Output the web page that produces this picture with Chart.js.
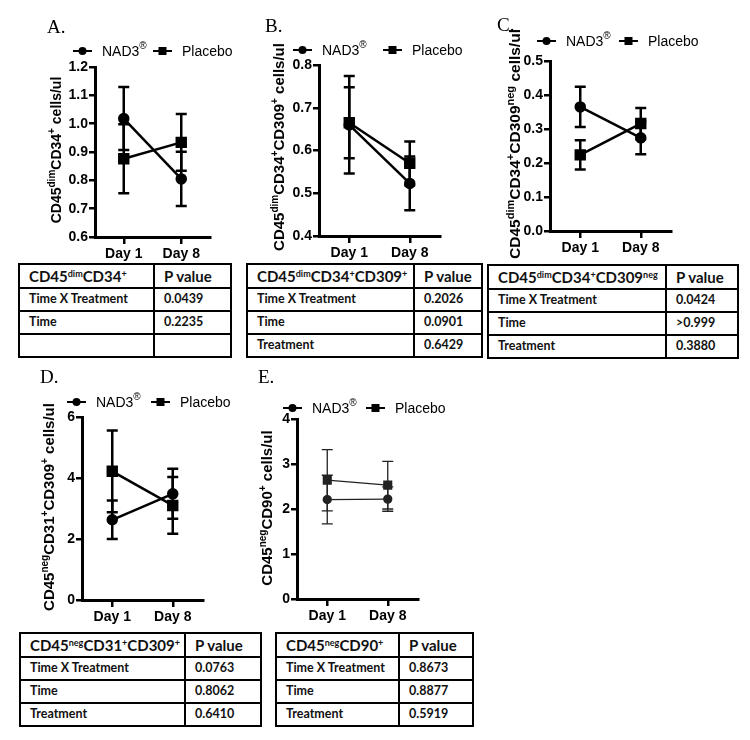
<!DOCTYPE html>
<html>
<head>
<meta charset="utf-8">
<script src="https://cdn.jsdelivr.net/npm/chart.js@4.4.0/dist/chart.umd.min.js"></script>
<style>
    body { margin: 0; background: #fff; width: 750px; height: 740px; position: relative; overflow: hidden; }
    canvas { position: absolute; }
    .tbl { position: absolute; border: 2px solid #000; box-sizing: border-box; font-family: Lato, "Open Sans", sans-serif; color: #111; }
    .tbl .row { display: flex; box-sizing: border-box; border-top: 2px solid #000; height: 23px; }
    .tbl .row:first-child { border-top: none; height: 22px; }
    .tbl .cell { box-sizing: border-box; padding: 0 0 2px 9px; display: flex; align-items: center; font-size: 12.5px; font-weight: 700; white-space: nowrap; }
    .tbl .c1 { border-right: 2px solid #000; }
    .tbl .c2 { flex: 1; }
    .tbl .head .cell { font-size: 15px; padding-bottom: 0; }
    .tbl sup { font-size: 9px; line-height: 0; position: relative; top: -2px; }
</style>
</head>
<body>
<canvas id="cA" width="240" height="262" style="left:0;top:0"></canvas>
<canvas id="cB" width="245" height="262" style="left:240px;top:0"></canvas>
<canvas id="cC" width="265" height="262" style="left:485px;top:0"></canvas>
<canvas id="cD" width="240" height="268" style="left:0;top:362px"></canvas>
<canvas id="cE" width="250" height="268" style="left:240px;top:362px"></canvas>
<div id="tables"></div>
<script>
    'use strict';

    var days = ['Day 1', 'Day 8'];

    // A. CD45dim CD34+
    var aNad = [1.018, 0.805];
    var aNadErr = [0.111, 0.096];
    var aPla = [0.876, 0.934];
    var aPlaErr = [0.122, 0.100];
    var aTicks = [0.6, 0.7, 0.8, 0.9, 1.0, 1.1, 1.2];

    // B. CD45dim CD34+ CD309+
    var bNad = [0.660, 0.523];
    var bNadErr = [0.114, 0.063];
    var bPla = [0.665, 0.570];
    var bPlaErr = [0.083, 0.051];
    var bTicks = [0.4, 0.5, 0.6, 0.7, 0.8];

    // C. CD45dim CD34+ CD309neg
    var cNad = [0.365, 0.274];
    var cNadErr = [0.059, 0.048];
    var cPla = [0.224, 0.316];
    var cPlaErr = [0.043, 0.046];
    var cTicks = [0.0, 0.1, 0.2, 0.3, 0.4, 0.5];

    // D. CD45neg CD31+ CD309+
    var dNad = [2.63, 3.48];
    var dNadErr = [0.63, 0.82];
    var dPla = [4.22, 3.10];
    var dPlaErr = [1.34, 0.93];
    var dTicks = [0, 2, 4, 6];

    // E. CD45neg CD90+
    var eNad = [2.21, 2.22];
    var eNadErr = [0.54, 0.27];
    var ePla = [2.64, 2.53];
    var ePlaErr = [0.68, 0.53];
    var eTicks = [0, 1, 2, 3, 4];

    // P value tables
    var rowNames = ['Time X Treatment', 'Time', 'Treatment'];
    var aPvals = ['0.0439', '0.2235', ''];
    var bPvals = ['0.2026', '0.0901', '0.6429'];
    var cPvals = ['0.0424', '>0.999', '0.3880'];
    var dPvals = ['0.0763', '0.8062', '0.6410'];
    var ePvals = ['0.8673', '0.8877', '0.5919'];

    var FONT = '"Liberation Sans", Arial, sans-serif';

    var panels = [
        { id: 'cA', letter: 'A.', nad: aNad, nadErr: aNadErr, pla: aPla, plaErr: aPlaErr, ticks: aTicks, dec: 1,
          title: [['CD45', 0], ['dim', 1], ['CD34', 0], ['+', 1], [' cells/ul', 0]], titleSize: 14,
          box: { l: 0, t: 0, w: 240, h: 262 }, area: { l: 95, t: 67, r: 210, b: 237 },
          letterPos: [47, 28], legendPos: [73, 51, 182], titlePos: [56, 150], lw: 2.5 },
        { id: 'cB', letter: 'B.', nad: bNad, nadErr: bNadErr, pla: bPla, plaErr: bPlaErr, ticks: bTicks, dec: 1,
          title: [['CD45', 0], ['dim', 1], ['CD34', 0], ['+', 1], ['CD309', 0], ['+', 1], [' cells/ul', 0]], titleSize: 15,
          box: { l: 240, t: 0, w: 245, h: 262 }, area: { l: 319, t: 65, r: 440, b: 236 },
          letterPos: [265, 27], legendPos: [293, 50, 412], titlePos: [279, 147], lw: 2.5 },
        { id: 'cC', letter: 'C.', nad: cNad, nadErr: cNadErr, pla: cPla, plaErr: cPlaErr, ticks: cTicks, dec: 1,
          title: [['CD45', 0], ['dim', 1], ['CD34', 0], ['+', 1], ['CD309', 0], ['neg', 1], [' cells/ul', 0]], titleSize: 15.5,
          box: { l: 485, t: 0, w: 265, h: 262 }, area: { l: 550, t: 61, r: 671, b: 231 },
          letterPos: [497, 26], legendPos: [537, 41, 648], titlePos: [515, 144], lw: 2.5 },
        { id: 'cD', letter: 'D.', nad: dNad, nadErr: dNadErr, pla: dPla, plaErr: dPlaErr, ticks: dTicks, dec: 0,
          title: [['CD45', 0], ['neg', 1], ['CD31', 0], ['+', 1], ['CD309', 0], ['+', 1], [' cells/ul', 0]], titleSize: 15,
          box: { l: 0, t: 362, w: 240, h: 268 }, area: { l: 82, t: 417, r: 203, b: 600 },
          letterPos: [40, 378], legendPos: [67, 402, 180], titlePos: [49, 507], lw: 2.5 },
        { id: 'cE', letter: 'E.', nad: eNad, nadErr: eNadErr, pla: ePla, plaErr: ePlaErr, ticks: eTicks, dec: 0,
          title: [['CD45', 0], ['neg', 1], ['CD90', 0], ['+', 1], [' cells/ul', 0]], titleSize: 15,
          box: { l: 240, t: 362, w: 250, h: 268 }, area: { l: 297, t: 419, r: 418, b: 599 },
          letterPos: [258, 378], legendPos: [283, 408, 395], titlePos: [267, 508], lw: 1.3 }
    ];

    var tables = [
        { head: 'CD45<sup>dim</sup>CD34<sup>+</sup>', names: ['Time X Treatment', 'Time', ''], vals: aPvals,
          l: 18, t: 263, w: 214, h: 95, c1: 135 },
        { head: 'CD45<sup>dim</sup>CD34<sup>+</sup>CD309<sup>+</sup>', names: rowNames, vals: bPvals,
          l: 246, t: 263, w: 237, h: 95, c1: 167 },
        { head: 'CD45<sup>dim</sup>CD34<sup>+</sup>CD309<sup>neg</sup>', names: rowNames, vals: cPvals,
          l: 487, t: 264, w: 252, h: 95, c1: 178 },
        { head: 'CD45<sup>neg</sup>CD31<sup>+</sup>CD309<sup>+</sup>', names: rowNames, vals: dPvals,
          l: 19, t: 632, w: 243, h: 95, c1: 165 },
        { head: 'CD45<sup>neg</sup>CD90<sup>+</sup>', names: rowNames, vals: ePvals,
          l: 275, t: 632, w: 199, h: 95, c1: 123 }
    ];

    // vertical error bars, drawn under the points
    var errorBars = {
        id: 'errorBars',
        beforeDatasetsDraw: function(chart) {
            var ctx = chart.ctx;
            var y = chart.scales.y;
            chart.data.datasets.forEach(function(ds, i) {
                var meta = chart.getDatasetMeta(i);
                ctx.save();
                ctx.strokeStyle = ds.borderColor;
                ctx.lineWidth = ds.borderWidth;
                meta.data.forEach(function(pt, j) {
                    var top = y.getPixelForValue(ds.data[j] + ds.errors[j]);
                    var bot = y.getPixelForValue(ds.data[j] - ds.errors[j]);
                    ctx.beginPath();
                    ctx.moveTo(pt.x, top); ctx.lineTo(pt.x, bot);
                    ctx.moveTo(pt.x - 5.5, top); ctx.lineTo(pt.x + 5.5, top);
                    ctx.moveTo(pt.x - 5.5, bot); ctx.lineTo(pt.x + 5.5, bot);
                    ctx.stroke();
                });
                ctx.restore();
            });
        }
    };

    function drawRich(ctx, parts, cx, cy, size) {
        var big = 'bold ' + size + 'px ' + FONT;
        var small = 'bold ' + Math.round(size * 0.68) + 'px ' + FONT;
        var total = 0;
        ctx.save();
        ctx.translate(cx, cy);
        ctx.rotate(-Math.PI / 2);
        parts.forEach(function(p) { ctx.font = p[1] ? small : big; total += ctx.measureText(p[0]).width; });
        var x = -total / 2;
        ctx.fillStyle = '#000';
        ctx.textBaseline = 'alphabetic';
        parts.forEach(function(p) {
            ctx.font = p[1] ? small : big;
            ctx.fillText(p[0], x, p[1] ? size * 0.35 - size * 0.4 : size * 0.35);
            x += ctx.measureText(p[0]).width;
        });
        ctx.restore();
    }

    function legendMark(ctx, x0, x1, y, square, lw) {
        var mid = (x0 + x1) / 2;
        ctx.beginPath();
        ctx.moveTo(x0, y); ctx.lineTo(x1, y);
        ctx.lineWidth = lw;
        ctx.stroke();
        if (square) {
            ctx.fillRect(mid - 4, y - 4, 8, 8);
        } else {
            ctx.beginPath();
            ctx.arc(mid, y, 4, 0, Math.PI * 2);
            ctx.fill();
        }
    }

    // panel letter, legend and rich y title
    var decor = {
        id: 'decor',
        afterDraw: function(chart) {
            var p = chart.options.plugins.decor.panel;
            var ctx = chart.ctx;
            var ox = p.box.l, oy = p.box.t;
            ctx.save();
            ctx.fillStyle = '#000';
            ctx.strokeStyle = '#000';
            ctx.font = '19px "Liberation Serif", "Times New Roman", serif';
            ctx.textBaseline = 'middle';
            ctx.fillText(p.letter, p.letterPos[0] - ox, p.letterPos[1] - oy);

            var lx = p.legendPos[0] - ox, ly = p.legendPos[1] - oy, px = p.legendPos[2] - ox;
            legendMark(ctx, lx, lx + 19, ly, false, 2);
            ctx.font = '14px ' + FONT;
            ctx.textBaseline = 'middle';
            ctx.fillText('NAD3', lx + 29, ly + 1);
            var w = ctx.measureText('NAD3').width;
            ctx.font = '10px ' + FONT;
            ctx.fillText('\u00AE', lx + 29 + w, ly - 5);
            legendMark(ctx, px - 29, px - 10, ly, true, 2);
            ctx.font = '14px ' + FONT;
            ctx.fillText('Placebo', px, ly + 1);
            ctx.restore();

            drawRich(ctx, p.title, p.titlePos[0] - ox, p.titlePos[1] - oy, p.titleSize);
        }
    };

    function makePanel(p) {
        var canvas = document.getElementById(p.id);
        var color = p.lw < 2 ? '#222' : '#000';
        var tickFont = { family: FONT, weight: 'bold', size: 14 };
        new Chart(canvas, {
            type: 'line',
            data: {
                labels: days,
                datasets: [{
                    label: 'NAD3',
                    data: p.nad,
                    errors: p.nadErr,
                    borderColor: color,
                    backgroundColor: color,
                    borderWidth: p.lw,
                    pointStyle: 'circle',
                    pointRadius: p.lw < 2 ? 4 : 4.5,
                    tension: 0
                }, {
                    label: 'Placebo',
                    data: p.pla,
                    errors: p.plaErr,
                    borderColor: color,
                    backgroundColor: color,
                    borderWidth: p.lw,
                    pointStyle: 'rect',
                    pointRadius: p.lw < 2 ? 5.5 : 6.3,
                    tension: 0
                }]
            },
            options: {
                responsive: false,
                animation: false,
                events: [],
                layout: { padding: { left: 0, top: p.area.t - p.box.t, right: p.box.l + p.box.w - p.area.r, bottom: 0 } },
                plugins: { legend: { display: false }, tooltip: { enabled: false }, decor: { panel: p } },
                scales: {
                    x: {
                        type: 'category',
                        offset: true,
                        afterFit: function(s) { s.height = p.box.t + p.box.h - p.area.b; },
                        grid: { offset: false, drawOnChartArea: false, tickLength: 7, lineWidth: 2.5, color: '#000' },
                        border: { color: '#000', width: 3 },
                        ticks: { color: '#000', font: tickFont, padding: 2 }
                    },
                    y: {
                        min: p.ticks[0],
                        max: p.ticks[p.ticks.length - 1],
                        afterFit: function(s) { s.width = p.area.l - p.box.l; },
                        afterBuildTicks: function(s) { s.ticks = p.ticks.map(function(v) { return { value: v }; }); },
                        grid: { drawOnChartArea: false, tickLength: 6, lineWidth: 2.5, color: '#000' },
                        border: { color: '#000', width: 3 },
                        ticks: {
                            color: '#000',
                            font: tickFont,
                            padding: 1,
                            callback: function(v) { return Number(v).toFixed(p.dec); }
                        }
                    }
                }
            },
            plugins: [errorBars, decor]
        });
    }

    function makeTable(t) {
        var box = document.createElement('div');
        box.className = 'tbl';
        box.style.left = t.l + 'px';
        box.style.top = t.t + 'px';
        box.style.width = t.w + 'px';
        box.style.height = t.h + 'px';
        var html = '<div class="row head"><div class="cell c1" style="width:' + t.c1 + 'px">' + t.head +
            '</div><div class="cell c2">P value</div></div>';
        t.names.forEach(function(name, i) {
            html += '<div class="row"><div class="cell c1" style="width:' + t.c1 + 'px">' + name +
                '</div><div class="cell c2">' + t.vals[i].replace('>', '&gt;') + '</div></div>';
        });
        box.innerHTML = html;
        document.getElementById('tables').appendChild(box);
    }

    panels.forEach(makePanel);
    tables.forEach(makeTable);
</script>
</body>
</html>
